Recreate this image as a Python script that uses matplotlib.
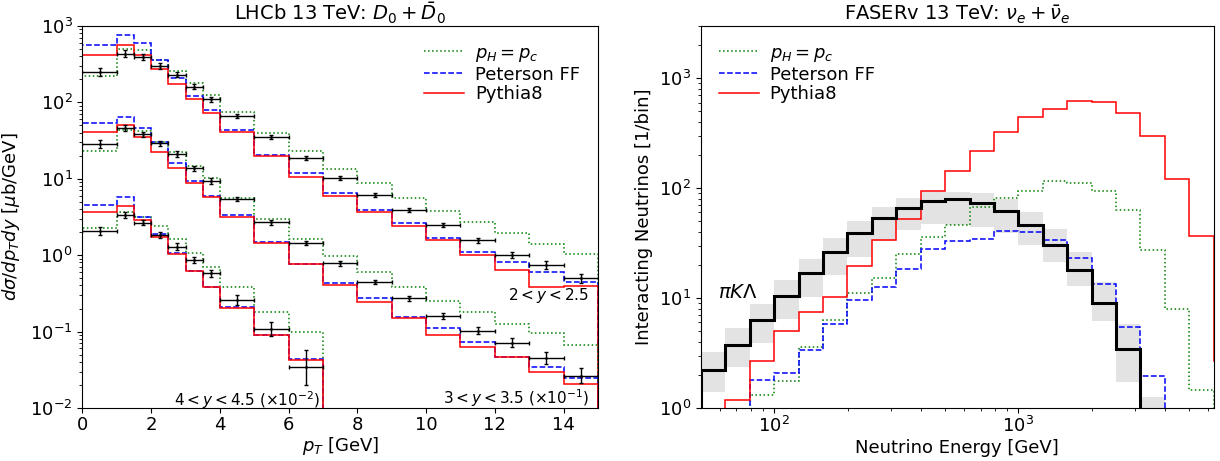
import numpy as np
import matplotlib
matplotlib.use("Agg")
import matplotlib.pyplot as plt

plt.rcParams['font.size'] = 13
plt.rcParams['mathtext.fontset'] = 'dejavusans'

# ---- LHCb D0 panel ----
pt_edges = [0, 1, 1.5, 2, 2.5, 3, 3.5, 4, 5, 6, 7, 8, 9, 10, 11, 12, 13, 14, 15]

# 2 < y < 2.5
y1_phpc = [220, 491, 481, 359, 258, 177, 125, 75.0, 39.2, 23.0, 13.2, 8.69, 5.62, 3.77, 2.68, 1.93, 1.41, 1.03]
y1_peterson = [564, 763, 599, 356, 205, 121.5, 78.3, 42.6, 20.4, 11.95, 6.55, 3.86, 2.61, 1.69, 1.11, 0.812, 0.597, 0.449]
y1_pythia = [414, 554, 410, 269, 171, 109, 71.5, 40.4, 19.6, 10.6, 5.98, 3.63, 2.40, 1.57, 1.00, 0.638, 0.379, 0.394]
y1_data = [250, 430, 386, 297, 227, 159, 109, 65.9, 35.3, 18.5, 10.1, 6.07, 3.89, 2.47, 1.57, 1.00, 0.741, 0.497]
y1_err = [0.13, 0.12, 0.10, 0.08, 0.08, 0.08, 0.07, 0.06, 0.06, 0.06, 0.06, 0.06, 0.06, 0.07, 0.08, 0.10, 0.12, 0.14]

# 3 < y < 3.5 (x 1e-1)
y2_phpc = [23.0, 43.2, 42.0, 30.4, 22.0, 14.8, 10.1, 5.62, 2.96, 1.61, 0.982, 0.601, 0.379, 0.253, 0.179, 0.126, 0.0948, 0.0673]
y2_peterson = [53.9, 63.0, 46.2, 29.9, 16.2, 9.39, 5.98, 3.34, 1.50, 0.764, 0.428, 0.272, 0.154, 0.110, 0.0723, 0.0469, 0.0347, 0.0244]
y2_pythia = [40.7, 50.7, 35.3, 22.5, 13.9, 8.69, 5.70, 3.18, 1.45, 0.753, 0.406, 0.243, 0.149, 0.0901, 0.0634, 0.0460, 0.0293, 0.0206]
y2_data = [28.2, 45.5, 38.0, 29.0, 21.0, 13.6, 9.31, 5.41, 2.68, 1.43, 0.780, 0.445, 0.272, 0.161, 0.102, 0.0715, 0.0447, 0.0264]
y2_err = [0.12, 0.10, 0.08, 0.08, 0.08, 0.08, 0.08, 0.07, 0.07, 0.07, 0.07, 0.07, 0.08, 0.09, 0.11, 0.14, 0.20, 0.25]

# 4 < y < 4.5 (x 1e-2)
y3_edges = pt_edges[:11]
y3_phpc = [2.24, 3.69, 3.12, 2.42, 1.62, 1.05, 0.692, 0.386, 0.179, 0.0977]
y3_peterson = [4.56, 5.70, 3.18, 1.87, 1.05, 0.625, 0.386, 0.207, 0.0910, 0.0434]
y3_pythia = [3.69, 4.38, 2.88, 1.74, 1.03, 0.619, 0.383, 0.205, 0.0901, 0.0428]
y3_data = [2.05, 3.34, 2.65, 1.83, 1.29, 0.863, 0.578, 0.258, 0.108, 0.0340]
y3_err = [0.12, 0.10, 0.08, 0.10, 0.10, 0.10, 0.12, 0.15, 0.25, 0.70]

# ---- FASER nu_e panel ----
e_edges = 10 ** (1.7 + 0.1 * np.arange(23))
nu_pythia = [0.6, 1.18, 2.68, 5.01, 7.45, 10.3, 19.7, 33.5, 52.3, 94.9, 144, 216, 321, 439, 525, 621, 612, 477, 299, 120, 36.4, 2.68]
nu_phpc = [0.5, 0.5, 1.31, 1.75, 3.55, 6.36, 11.2, 15.1, 25.2, 35.9, 45.7, 66.6, 81, 95, 115, 111, 95, 63.5, 27.2, 8.0, 1.46, 0.5]
nu_peterson = [0.5, 0.5, 1.80, 2.06, 3.4, 5.85, 9.66, 12.7, 18.2, 28, 33, 34.7, 41, 39.9, 33.5, 23.2, 13.3, 5.45, 1.94, 0.5]
nu_light = [2.22, 3.74, 6.27, 10.4, 16.8, 26.4, 39.3, 52.9, 66.2, 76.1, 79.3, 73, 62.1, 45.7, 30.1, 17.9, 9.06, 3.42, 0.6]
nu_light_lo = [1.41, 2.37, 3.88, 6.4, 10.3, 16.1, 23.7, 32.8, 41.2, 47.4, 46.4, 44, 39, 30.6, 21.1, 12.8, 6.18, 1.71, 0.3]
nu_light_hi = [3.2, 5.3, 8.8, 14.5, 22.8, 35.4, 50.5, 66.6, 81, 92.4, 91.8, 90, 80, 61.2, 42.7, 26.3, 14.0, 5.77, 1.27]

fig = plt.figure(figsize=(12.2, 4.61), dpi=100)
ax1 = fig.add_axes([0.0676, 0.1150, 0.4225, 0.8293])
ax2 = fig.add_axes([0.5746, 0.1150, 0.4202, 0.8293])

# left panel
def draw_group(ax, edges, phpc, pet, pyth, data, err):
    n = len(data)
    ax.stairs(phpc, edges[:n + 1], baseline=1e-5, color='green', ls=':', lw=1.1)
    ax.stairs(pet, edges[:n + 1], baseline=1e-5, color='blue', ls='--', lw=1.1)
    ax.stairs(pyth, edges[:n + 1], baseline=1e-5, color='red', lw=1.1)
    e = np.array(edges[:n + 1], dtype=float)
    x = 0.5 * (e[1:] + e[:-1])
    xe = 0.5 * (e[1:] - e[:-1])
    d = np.array(data)
    f = 1 + np.array(err)
    yerr = [d - d / f, d * f - d]
    ax.errorbar(x, d, xerr=xe, yerr=yerr, fmt='.', color='black', ms=2,
                elinewidth=1, capsize=1.2, capthick=1)

draw_group(ax1, pt_edges, y1_phpc, y1_peterson, y1_pythia, y1_data, y1_err)
draw_group(ax1, pt_edges, y2_phpc, y2_peterson, y2_pythia, y2_data, y2_err)
draw_group(ax1, y3_edges, y3_phpc, y3_peterson, y3_pythia, y3_data, y3_err)

ax1.set_yscale('log')
ax1.set_xlim(0, 15)
ax1.set_ylim(1e-2, 1e3)
ax1.tick_params(axis='x', pad=2)
ax1.set_xlabel(r'$p_T$ [GeV]', labelpad=1)
ax1.set_ylabel(r'$d\sigma/dp_Tdy$ [$\mu$b/GeV]', labelpad=6)
ax1.set_title(r'LHCb 13 TeV: $D_0+\bar{D}_0$', fontsize=14, pad=2)
ax1.text(14.75, 0.292, r'$2<y<2.5$', ha='right', va='center', fontsize=11)
ax1.text(14.75, 0.0134, r'$3<y<3.5$ $(\times10^{-1})$', ha='right', va='center', fontsize=11)
ax1.text(6.92, 0.0127, r'$4<y<4.5$ $(\times10^{-2})$', ha='right', va='center', fontsize=11)

h1, = ax1.plot([], [], color='green', ls=':', lw=1.1, label=r'$p_H=p_c$')
h2, = ax1.plot([], [], color='blue', ls='--', lw=1.1, label='Peterson FF')
h3, = ax1.plot([], [], color='red', lw=1.1, label='Pythia8')
ax1.legend(handles=[h1, h2, h3], loc='upper right', frameon=False, fontsize=13,
           handlelength=2.2, handletextpad=0.6, borderaxespad=0.6, labelspacing=0.1)

# right panel
n = len(nu_light)
ax2.stairs(nu_light_hi, e_edges[:n + 1], baseline=nu_light_lo, fill=True,
           color='#e3e3e3', lw=0, zorder=1)
ax2.stairs(nu_phpc, e_edges[:len(nu_phpc) + 1], baseline=1e-3, color='green', ls=':', lw=1.1, zorder=2)
ax2.stairs(nu_peterson, e_edges[:len(nu_peterson) + 1], baseline=1e-3, color='blue', ls='--', lw=1.1, zorder=2)
ax2.stairs(nu_pythia, e_edges[:len(nu_pythia) + 1], baseline=1e-3, color='red', lw=1.1, zorder=2)
ax2.stairs(nu_light, e_edges[:n + 1], baseline=1e-3, color='black', lw=2.2, zorder=3)

ax2.set_xscale('log')
ax2.set_yscale('log')
ax2.set_xlim(10 ** 1.7, 10 ** 3.8)
ax2.set_ylim(1, 3000)
ax2.tick_params(axis='x', pad=2)
ax2.set_xlabel('Neutrino Energy [GeV]', labelpad=2)
ax2.set_ylabel('Interacting Neutrinos [1/bin]')
ax2.set_title(r'FASERv 13 TeV: $\nu_e+\bar{\nu}_e$', fontsize=14, pad=2)
ax2.text(71, 11.2, r'$\pi K\Lambda$', ha='center', va='center', fontsize=14)

g1, = ax2.plot([], [], color='green', ls=':', lw=1.1, label=r'$p_H=p_c$')
g2, = ax2.plot([], [], color='blue', ls='--', lw=1.1, label='Peterson FF')
g3, = ax2.plot([], [], color='red', lw=1.1, label='Pythia8')
ax2.legend(handles=[g1, g2, g3], loc='upper left', frameon=False, fontsize=13,
           handlelength=2.2, handletextpad=0.6, borderaxespad=0.6, labelspacing=0.1)

fig.savefig('out.png', dpi=100)
